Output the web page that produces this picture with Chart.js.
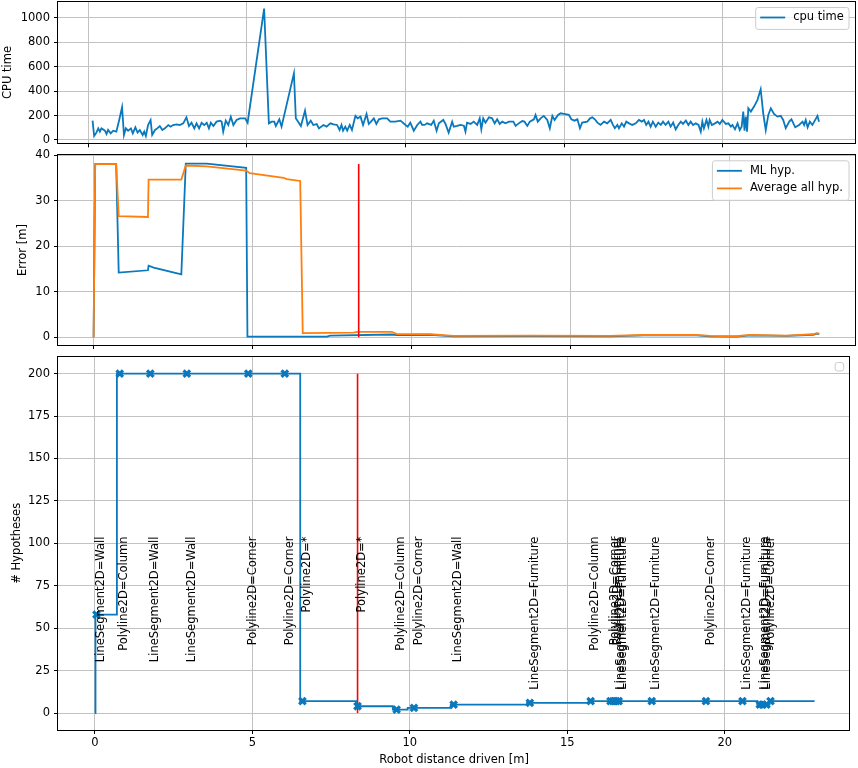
<!DOCTYPE html>
<html>
<head>
<meta charset="utf-8">
<title>Hypotheses vs distance driven</title>
<script src="https://cdn.jsdelivr.net/npm/chart.js"></script>
<style>
  body { margin: 0; background: #fff; overflow: hidden; }
  #wrap { position: relative; width: 858px; height: 768px; overflow: hidden; }
  canvas { position: absolute; left: 0; }
</style>
</head>
<body>
<div id="wrap">
  <canvas id="cpuChart" width="858" height="778" style="top:-10px"></canvas>
  <canvas id="errChart" width="858" height="768" style="top:0"></canvas>
  <canvas id="hypChart" width="858" height="768" style="top:0"></canvas>
</div>
<script>
    // ---- data ----
    // top: cpu time per step
    var cpuDist = [0.13,0.18,0.25,0.31,0.36,0.41,0.52,0.57,0.62,0.70,0.78,0.88,0.97,1.06,1.12,1.18,1.25,1.34,1.40,1.48,
        1.55,1.62,1.71,1.76,1.81,1.88,1.96,2.01,2.10,2.17,2.25,2.33,2.41,2.52,2.59,2.67,2.78,2.88,2.99,3.09,
        3.17,3.25,3.34,3.41,3.49,3.57,3.65,3.73,3.80,3.86,3.94,4.04,4.15,4.20,4.25,4.33,4.41,4.49,4.57,4.67,
        4.78,4.94,5.02,5.54,5.69,5.78,5.86,5.91,6.02,6.09,6.48,6.54,6.70,6.83,6.91,7.01,7.09,7.20,7.27,7.41,7.51,
        7.63,7.73,7.84,7.92,7.98,8.03,8.10,8.16,8.24,8.31,8.42,8.49,8.58,8.66,8.77,8.84,8.91,9.00,9.08,9.16,
        9.26,9.42,9.52,9.68,9.84,10.00,10.07,10.15,10.26,10.37,10.47,10.52,10.60,10.68,10.81,10.89,10.98,11.05,11.19,11.26,
        11.36,11.47,11.52,11.63,11.73,11.84,11.89,11.94,12.05,12.15,12.26,12.34,12.39,12.45,12.52,12.63,12.73,12.81,12.89,12.97,
        13.05,13.15,13.26,13.40,13.47,13.57,13.68,13.75,13.84,13.92,14.05,14.10,14.17,14.26,14.36,14.47,14.55,14.63,14.70,14.81,
        14.89,14.99,15.15,15.23,15.33,15.42,15.50,15.57,15.73,15.82,
        15.89,15.97,16.05,16.15,16.26,16.36,16.47,16.54,16.60,16.68,16.73,16.82,16.89,16.96,17.05,17.15,17.26,17.36,17.45,17.52,
        17.59,17.66,17.73,17.80,17.89,17.97,18.05,18.12,18.20,18.29,18.36,18.44,18.52,18.60,18.68,18.75,18.84,18.92,18.99,19.07,
        19.15,19.24,19.31,19.36,19.41,19.49,19.55,19.59,19.66,19.76,19.84,19.91,19.99,20.10,20.18,20.26,20.31,20.39,20.47,20.54,
        20.60,20.65,20.69,20.73,20.77,20.81,20.89,20.99,21.10,21.20,21.28,21.36,21.44,21.52,21.62,21.73,21.83,21.91,21.99,22.10,
        22.17,22.29,22.41,22.52,22.57,22.62,22.68,22.75,22.83,22.92,22.99,23.04];
    var cpuTime = [158,33,60,95,68,95,76,49,82,54,76,68,163,267,41,95,76,95,54,103,
        60,82,41,68,33,122,163,41,82,95,114,82,95,122,109,122,128,122,136,185,
        114,141,95,136,95,141,122,141,95,141,114,150,158,150,68,158,122,190,122,163,
        177,177,141,1074,136,150,150,114,168,109,544,177,114,239,122,158,122,130,95,122,109,
        136,128,123,82,123,76,109,76,123,82,197,177,191,123,213,131,150,177,131,169,
        177,177,150,150,158,123,109,142,76,123,150,123,123,136,123,158,76,136,164,131,
        60,150,109,115,123,117,68,142,131,150,123,177,87,177,142,186,177,136,169,131,
        150,136,150,150,115,136,155,150,115,150,169,205,150,177,197,164,96,197,164,205,
        218,213,205,169,158,169,96,142,150,177,
        186,169,142,123,150,136,164,123,96,123,96,136,109,150,136,123,136,164,150,164,
        123,150,109,150,109,142,123,150,123,150,109,142,87,123,150,131,158,123,150,123,
        136,123,68,150,96,164,109,164,123,136,150,131,164,131,136,109,123,87,136,82,
        109,232,76,191,68,259,232,273,328,415,218,82,205,259,213,191,197,164,96,150,
        169,104,123,150,123,164,104,150,123,164,197,150];

    // middle: localisation error
    var mlDist = [0,0.05,0.71,0.79,1.71,1.73,1.89,2.76,2.90,3.56,4.80,4.84,7.34,7.44,9.38,9.54,10.59,11.32,13.73,16.25,17.30,18.97,19.39,20.23,20.65,21.80,22.64,22.75,22.83];
    var mlError = [0,38.0,38.0,14.2,14.7,15.7,15.3,13.8,38.1,38.1,37.2,0.15,0.15,0.36,0.6,0.5,0.55,0.2,0.26,0.2,0.4,0.4,0.2,0.12,0.4,0.3,0.55,0.8,0.7];
    var avgDist = [0,0.05,0.71,0.79,1.71,1.73,2.76,2.90,3.56,4.80,4.91,5.98,6.08,6.50,6.58,8.18,8.29,9.38,9.54,10.59,11.32,13.73,16.25,17.30,18.97,19.39,20.23,20.65,21.80,22.64,22.75,22.83];
    var avgError = [0,38.0,38.0,26.6,26.4,34.6,34.6,37.7,37.5,36.6,36.0,35.0,34.7,34.3,0.9,1.0,1.2,1.2,0.7,0.66,0.3,0.36,0.3,0.5,0.5,0.3,0.22,0.5,0.36,0.66,0.9,0.8];

    // red marker line
    var markDist = 8.34;
    var markErrTop = 38;
    var markHypTop = 200;

    // bottom: number of hypotheses (value holds until the next change)
    var hypDist = [0,0.02,0.70,6.52,8.31,9.46,9.93,11.30,13.72,15.67,21.03,21.42,22.85];
    var hypCount = [0,58,200,7,4,2,3,5,6,7,5,7,7];

    // detections
    var detDist = [0.05,0.79,1.76,2.92,4.87,6.03,6.59,8.34,9.58,10.13,11.39,13.81,15.74,16.37,16.45,16.55,16.63,17.68,19.40,20.56,21.11,21.2,21.32,21.45];
    var detCount = [58,200,200,200,200,200,7,4,2,3,5,6,7,7,7,7,7,7,7,7,5,5,5,7];
    var detLabel = ['LineSegment2D=Wall','Polyline2D=Column','LineSegment2D=Wall','LineSegment2D=Wall','Polyline2D=Corner',
        'Polyline2D=Corner','Polyline2D=*','Polyline2D=*','Polyline2D=Column','Polyline2D=Corner','LineSegment2D=Wall',
        'LineSegment2D=Furniture','Polyline2D=Column','Polyline2D=Corner','Polyline2D=Corner','LineSegment2D=Furniture',
        'LineSegment2D=Furniture','LineSegment2D=Furniture','Polyline2D=Corner','LineSegment2D=Furniture',
        'LineSegment2D=Furniture','LineSegment2D=Furniture','Polyline2D=Corner',''];
    var labelTop = 104;

    var xTicks = [0, 5, 10, 15, 20];

    // ---- styling ----
    var BLUE = '#0a78bc';
    var ORANGE = '#ff7f0e';
    var FONT = '11.5px "DejaVu Sans"';
    var LW = 1.8;
    Chart.defaults.font.family = '"DejaVu Sans"';
    Chart.defaults.font.size = 11.5;
    Chart.defaults.color = '#000';

    function pts(xs, ys) {
        return xs.map(function (x, i) { return {x: x, y: ys[i]}; });
    }

    var grid = { color: '#c2c2c2', lineWidth: 1, tickColor: '#000', tickLength: 4, tickWidth: 1 };

    var frame = {
        id: 'frame',
        afterDraw: function (chart) {
            var a = chart.chartArea, ctx = chart.ctx;
            var l = Math.round(a.left) - 0.5, r = Math.round(a.right) - 0.5;
            var t = Math.round(a.top) - 0.5, b = Math.round(a.bottom) + 0.5;
            ctx.save();
            ctx.strokeStyle = '#000';
            ctx.lineWidth = 1;
            ctx.strokeRect(l, t, r - l, b - t);
            ctx.restore();
        }
    };

    function boxLegend(items, w) {
        return {
            id: 'boxLegend',
            afterDraw: function (chart) {
                var a = chart.chartArea, ctx = chart.ctx;
                var rowH = 17.6;
                var h = items.length ? items.length * rowH + 4.3 : 8.5;
                var x = a.right - 6.5 - w, y = a.top + 5.8;
                ctx.save();
                ctx.beginPath();
                ctx.roundRect(x, y, w, h, 2.5);
                ctx.fillStyle = 'rgba(255,255,255,0.8)';
                ctx.fill();
                ctx.strokeStyle = '#cccccc';
                ctx.lineWidth = 1;
                ctx.stroke();
                ctx.font = FONT;
                ctx.textBaseline = 'middle';
                items.forEach(function (it, i) {
                    var cy = y + 10 + i * rowH;
                    ctx.beginPath();
                    ctx.moveTo(x + 4.5, cy);
                    ctx.lineTo(x + 29.5, cy);
                    ctx.strokeStyle = it.color;
                    ctx.lineWidth = LW;
                    ctx.stroke();
                    ctx.fillStyle = '#000';
                    ctx.fillText(it.label, x + 37.5, cy);
                });
                ctx.restore();
            }
        };
    }

    var detText = {
        id: 'detText',
        afterDatasetsDraw: function (chart) {
            var ctx = chart.ctx, x = chart.scales.x, y = chart.scales.y;
            var top = y.getPixelForValue(labelTop);
            ctx.save();
            ctx.font = FONT;
            ctx.fillStyle = '#000';
            ctx.textAlign = 'right';
            ctx.textBaseline = 'top';
            detDist.forEach(function (d, i) {
                ctx.save();
                ctx.translate(x.getPixelForValue(d) - 1, top);
                ctx.rotate(-Math.PI / 2);
                ctx.fillText(detLabel[i], 0, 0);
                ctx.restore();
            });
            ctx.restore();
        }
    };

    function xAxis(min, max, h, showLabels, title) {
        return {
            type: 'linear', min: min, max: max,
            afterFit: function (s) { s.height = h; },
            afterBuildTicks: function (s) { s.ticks = xTicks.map(function (v) { return {value: v}; }); },
            ticks: { display: showLabels, padding: 2.5, callback: function (v) { return String(v); } },
            grid: grid,
            border: { display: false },
            title: title ? { display: true, text: title, padding: { top: 0, bottom: 1.1 } } : { display: false }
        };
    }

    function yAxis(min, max, step, title, titlePad) {
        return {
            min: min, max: max,
            afterFit: function (s) { s.width = 58; },
            ticks: { stepSize: step, includeBounds: false, padding: 4, callback: function (v) { return String(v); } },
            grid: grid,
            border: { display: false },
            title: { display: true, text: title, padding: { top: titlePad, bottom: 0 } }
        };
    }

    var baseOpts = {
        responsive: false,
        animation: false,
        events: [],
        plugins: { legend: { display: false }, tooltip: { enabled: false } }
    };

    function opts(pad, scales) {
        return Object.assign({}, baseOpts, { layout: { padding: pad }, scales: scales });
    }

    // ---- top: cpu time ----
    new Chart(document.getElementById('cpuChart'), {
        type: 'line',
        data: {
            datasets: [{
                label: 'cpu time',
                data: pts(cpuDist, cpuTime),
                borderColor: BLUE, borderWidth: LW, pointRadius: 0, tension: 0
            }]
        },
        options: opts({ left: 0, right: 2.5, top: 11.7, bottom: 778 - 153.3 - 7 }, {
            x: xAxis(-0.96, 24.19, 7, false),
            y: yAxis(-27, 1130, 200, 'CPU time', 1.4)
        }),
        plugins: [frame, boxLegend([{ label: 'cpu time', color: BLUE }], 93.3)]
    });

    // ---- middle: error ----
    new Chart(document.getElementById('errChart'), {
        type: 'line',
        data: {
            datasets: [
                { label: 'ML hyp.', data: pts(mlDist, mlError), borderColor: BLUE, borderWidth: LW, pointRadius: 0, tension: 0, order: 3 },
                { label: 'Average all hyp.', data: pts(avgDist, avgError), borderColor: ORANGE, borderWidth: LW, pointRadius: 0, tension: 0, order: 2 },
                { label: 'marker', data: [{ x: markDist, y: 0 }, { x: markDist, y: markErrTop }], borderColor: '#ff0000', borderWidth: 1.6, pointRadius: 0, order: 1 }
            ]
        },
        options: opts({ left: 0, right: 2.5, top: 155, bottom: 768 - 345 - 5 }, {
            x: xAxis(-1.12, 23.97, 5, false),
            y: yAxis(-1.7, 40.001, 10, 'Error [m]', 15.9)
        }),
        plugins: [frame, boxLegend([{ label: 'ML hyp.', color: BLUE }, { label: 'Average all hyp.', color: ORANGE }], 136.6)]
    });

    // ---- bottom: hypotheses ----
    new Chart(document.getElementById('hypChart'), {
        type: 'line',
        data: {
            datasets: [
                { label: 'marker', data: [{ x: markDist, y: 0 }, { x: markDist, y: markHypTop }], borderColor: '#ff0000', borderWidth: 1.6, pointRadius: 0, order: 3 },
                { label: 'hypotheses', data: pts(hypDist, hypCount), stepped: 'before', borderColor: BLUE, borderWidth: LW, pointRadius: 0, order: 2 },
                { type: 'scatter', label: 'detections', data: pts(detDist, detCount), pointStyle: 'crossRot', pointRadius: 4.6, borderColor: BLUE, backgroundColor: BLUE, borderWidth: 3.2, order: 1 }
            ]
        },
        options: opts({ left: 0, right: 2.5, top: 356.7, bottom: 0 }, {
            x: xAxis(-1.17, 23.98, 38, true, 'Robot distance driven [m]'),
            y: yAxis(-10, 210, 25, '# Hypotheses', 10.3)
        }),
        plugins: [frame, detText, boxLegend([], 8.6)]
    });
</script>
</body>
</html>
